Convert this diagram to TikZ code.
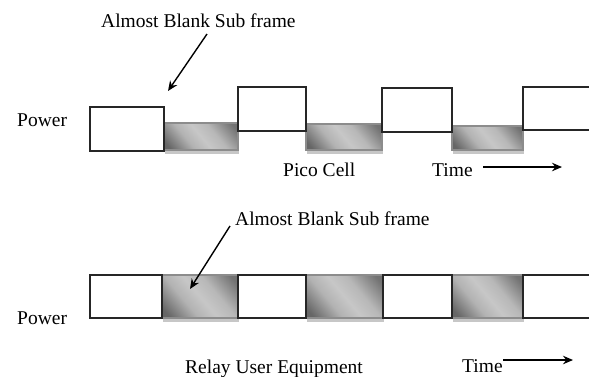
\documentclass[tikz,border=0pt]{standalone}
\usepackage{fontspec}
\setmainfont{Liberation Serif}
\usetikzlibrary{shadows,arrows.meta}
\pgfdeclarehorizontalshading{absgrad}{100bp}{color(0bp)=(black!62); color(20bp)=(black!60); color(38bp)=(black!30); color(50bp)=(black!22); color(62bp)=(black!28); color(80bp)=(black!55); color(100bp)=(black!60)}
\begin{document}
\begin{tikzpicture}[x=1pt,y=-1pt,
  lbl/.style={font=\fontsize{19.5}{23}\selectfont, inner sep=0pt, text=black, anchor=base west},
  wbox/.style={draw=black!85, line width=1.1pt, inner sep=0pt, outer sep=0pt, anchor=north west},
  wline/.style={draw=black!85, line width=1.1pt},
  gbox/.style={draw=black!45, line width=2pt, inner sep=0pt, outer sep=0pt, anchor=north west,
    shading=absgrad, shading angle=40,
    drop shadow={shadow xshift=1pt, shadow yshift=-3.5pt, fill=black!22, opacity=1}},
  arr/.style={-{Stealth[length=10pt,width=8.5pt]}, line width=1.4pt, black}
]
\useasboundingbox (0,0) rectangle (589,376);

% ---- top row (Pico Cell) ----
\node[gbox, minimum width=74pt, minimum height=27pt] (tg1) at (164,123) {};
\node[gbox, minimum width=76pt, minimum height=26pt] (tg2) at (306,124) {};
\node[gbox, minimum width=71pt, minimum height=24pt] (tg3) at (452,126) {};
\node[wbox, minimum width=74pt, minimum height=44pt] (tw1) at (90,107) {};
\node[wbox, minimum width=68pt, minimum height=44pt] (tw2) at (238,87) {};
\node[wbox, minimum width=70pt, minimum height=44pt] (tw3) at (382,88) {};
\draw[wline] (589,87) -- (523,87) -- (523,130) -- (589,130);

% ---- bottom row (Relay UE) ----
\node[gbox, minimum width=76pt, minimum height=43pt] (bg1) at (162,275) {};
\node[gbox, minimum width=77pt, minimum height=43pt] (bg2) at (306,275) {};
\node[gbox, minimum width=71pt, minimum height=43pt] (bg3) at (452,275) {};
\node[wbox, minimum width=72pt, minimum height=43pt] (bw1) at (90,275) {};
\node[wbox, minimum width=68pt, minimum height=43pt] (bw2) at (238,275) {};
\node[wbox, minimum width=69pt, minimum height=43pt] (bw3) at (383,275) {};
\draw[wline] (589,275) -- (523,275) -- (523,318) -- (589,318);

% ---- labels ----
\node[lbl] (abs1) at (101,27) {Almost Blank Sub frame};
\node[lbl] (abs2) at (235,225) {Almost Blank Sub frame};
\node[lbl] (pw1) at (17,126) {Power};
\node[lbl] (pw2) at (17,324) {Power};
\node[lbl] (pico) at (283,176) {Pico Cell};
\node[lbl] (time1) at (432,176) {Time};
\node[lbl] (relay) at (185,373) {Relay User Equipment};
\node[lbl] (time2) at (462,372) {Time};

% ---- arrows ----
\coordinate (a1s) at (207,34);
\coordinate (a1e) at (168,91);
\coordinate (a2s) at (230,226);
\coordinate (a2e) at (190,289);
\coordinate (t1s) at (483,167);
\coordinate (t1e) at (562,167);
\coordinate (t2s) at (503,360);
\coordinate (t2e) at (573,360);
\draw[arr] (a1s) -- (a1e);
\draw[arr] (a2s) -- (a2e);
\draw[arr] (t1s) -- (t1e);
\draw[arr] (t2s) -- (t2e);
\end{tikzpicture}
\end{document}
